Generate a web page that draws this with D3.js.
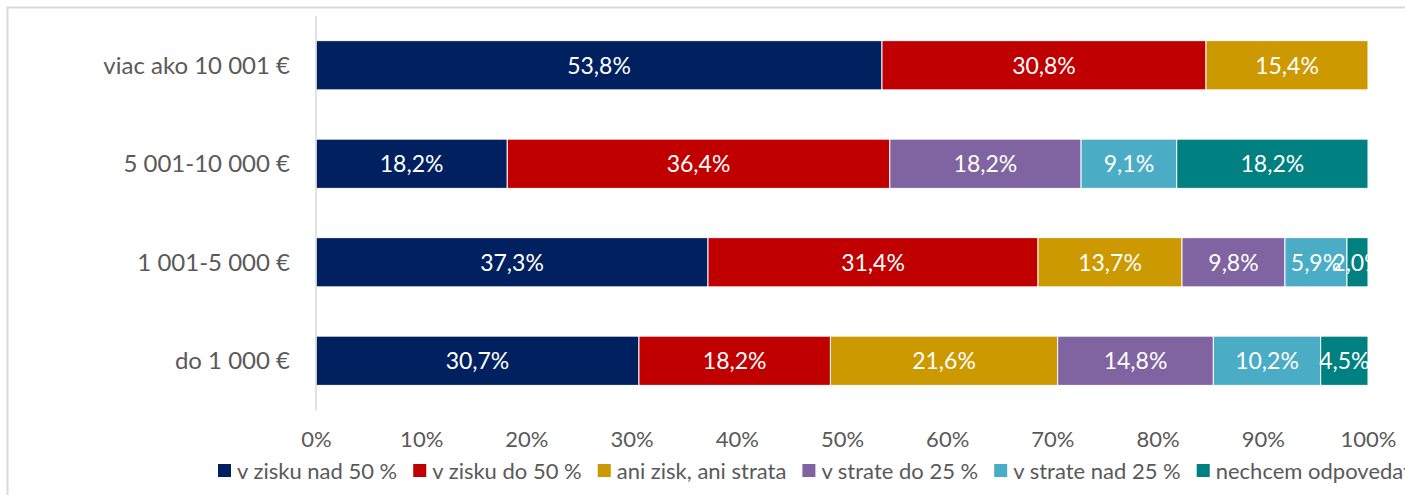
<!DOCTYPE html>
<html>
<head>
<meta charset="utf-8">
<script src="https://cdn.jsdelivr.net/npm/d3@7"></script>
<style>
  body { margin: 0; background: #fff; }
  svg text { font-family: Lato, 'Open Sans', sans-serif; }
</style>
</head>
<body>
<div id="chart"></div>
<script>
const categories = ['viac ako 10 001 €', '5 001-10 000 €', '1 001-5 000 €', 'do 1 000 €']
const seriesNames = ['v zisku nad 50 %', 'v zisku do 50 %', 'ani zisk, ani strata', 'v strate do 25 %', 'v strate nad 25 %', 'nechcem odpovedať']
const seriesColors = ['#002060', '#C00000', '#CC9900', '#8064A2', '#4BACC6', '#008080']
// values per category, in series order
const valTop = [53.8, 30.8, 15.4, 0, 0, 0]
const val5k10k = [18.2, 36.4, 0, 18.2, 9.1, 18.2]
const val1k5k = [37.3, 31.4, 13.7, 9.8, 5.9, 2.0]
const valLow = [30.7, 18.2, 21.6, 14.8, 10.2, 4.5]
const xTicks = [0, 0.1, 0.2, 0.3, 0.4, 0.5, 0.6, 0.7, 0.8, 0.9, 1]

const rows = [valTop, val5k10k, val1k5k, valLow]

const w = 1405
const h = 495
const plotLeft = 316
const plotRight = 1368
const plotTop = 16
const plotBottom = 410

const svg = d3.select('#chart').append('svg').attr('width', w).attr('height', h)

// frame
svg.append('rect')
  .attr('x', 7.5).attr('y', 7.5)
  .attr('width', w + 20).attr('height', h + 20)
  .attr('fill', 'none').attr('stroke', '#d9d9d9').attr('stroke-width', 2)

const x = d3.scaleLinear().domain([0, 1]).range([plotLeft, plotRight])
const y = d3.scaleBand().domain(categories).range([plotTop, plotBottom]).paddingInner(0.5).paddingOuter(0.25)

svg.append('defs').append('clipPath').attr('id', 'plot')
  .append('rect').attr('x', plotLeft).attr('y', plotTop).attr('width', plotRight - plotLeft).attr('height', plotBottom - plotTop)

// build stacked segments, normalised per row (100% stacked)
const segs = []
rows.forEach((vals, i) => {
  const total = d3.sum(vals)
  let acc = 0
  vals.forEach((v, j) => {
    if (v > 0) {
      segs.push({ cat: categories[i], s: j, v: v, x0: acc / total, x1: (acc + v) / total })
    }
    acc += v
  })
})

const plot = svg.append('g').attr('clip-path', 'url(#plot)')

plot.selectAll('rect.seg')
  .data(segs)
  .join('rect')
  .attr('class', 'seg')
  .attr('x', (d) => x(d.x0))
  .attr('y', (d) => y(d.cat))
  .attr('width', (d) => x(d.x1) - x(d.x0))
  .attr('height', y.bandwidth())
  .attr('fill', (d) => seriesColors[d.s])
  .attr('stroke', '#fff')
  .attr('stroke-width', 1)

plot.selectAll('text.lbl')
  .data(segs)
  .join('text')
  .attr('class', 'lbl')
  .attr('x', (d) => (x(d.x0) + x(d.x1)) / 2)
  .attr('y', (d) => y(d.cat) + y.bandwidth() / 2)
  .attr('dy', '0.36em')
  .attr('text-anchor', 'middle')
  .attr('fill', '#fff')
  .style('font-size', '23px')
  .text((d) => d.v.toFixed(1).replace('.', ',') + '%')

// vertical axis line
svg.append('line')
  .attr('x1', plotLeft).attr('x2', plotLeft)
  .attr('y1', plotTop).attr('y2', plotBottom)
  .attr('stroke', '#d9d9d9').attr('stroke-width', 1.5)

// category labels
svg.selectAll('text.cat')
  .data(categories)
  .join('text')
  .attr('class', 'cat')
  .attr('x', 290)
  .attr('y', (d) => y(d) + y.bandwidth() / 2)
  .attr('dy', '0.36em')
  .attr('text-anchor', 'end')
  .attr('fill', '#595959')
  .style('font-size', '24px')
  .text((d) => d)

// x tick labels
const xAxis = d3.axisBottom(x).tickValues(xTicks).tickFormat(d3.format('.0%')).tickSize(0).tickPadding(0)
const gx = svg.append('g').attr('transform', 'translate(0,' + 431 + ')').call(xAxis)
gx.select('.domain').remove()
gx.selectAll('text')
  .attr('fill', '#595959')
  .style('font-family', 'Lato, sans-serif')
  .style('font-size', '22px')

// legend
const legend = svg.append('g').attr('transform', 'translate(218,471)')
let lx = 0
seriesNames.forEach((name, i) => {
  const g = legend.append('g').attr('transform', 'translate(' + lx + ',0)')
  g.append('rect').attr('x', 0).attr('y', -7).attr('width', 13).attr('height', 13).attr('fill', seriesColors[i])
  const t = g.append('text')
    .attr('x', 19).attr('y', 0).attr('dy', '0.35em')
    .attr('fill', '#595959')
    .style('font-size', '22px')
    .text(name)
  lx += 19 + t.node().getComputedTextLength() + 16
})
</script>
</body>
</html>
